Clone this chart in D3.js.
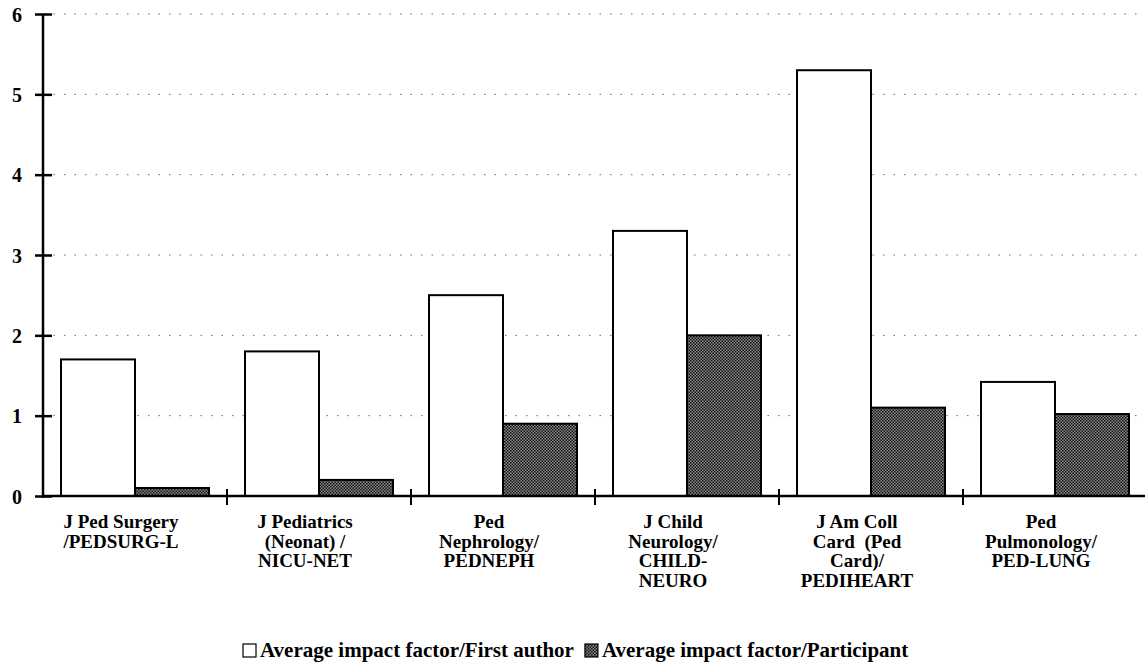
<!DOCTYPE html>
<html><head><meta charset="utf-8">
<script src="https://cdn.jsdelivr.net/npm/d3@7"></script>
<style>body{margin:0;background:#fff}svg{display:block}</style>
</head><body><div id="chart"></div>
<script>
const categories = [
  ["J Ped Surgery","/PEDSURG-L"],
  ["J Pediatrics","(Neonat) /","NICU-NET"],
  ["Ped","Nephrology/","PEDNEPH"],
  ["J Child","Neurology/","CHILD-","NEURO"],
  ["J Am Coll","Card  (Ped","Card)/","PEDIHEART"],
  ["Ped","Pulmonology/","PED-LUNG"]
];
const seriesNames = ["Average impact factor/First author","Average impact factor/Participant"];
const firstAuthor = [1.7, 1.8, 2.5, 3.3, 5.3, 1.42];
const participant = [0.1, 0.2, 0.9, 2.0, 1.1, 1.02];
const yTicks = [0,1,2,3,4,5,6];

const FONT="Liberation Serif, Times New Roman, Times, serif";
const W=1145,H=662;
const svg=d3.select("#chart").append("svg").attr("width",W).attr("height",H)
  .attr("font-family",FONT).attr("font-weight","bold");
const defs=svg.append("defs");
const pat=defs.append("pattern").attr("id","dots").attr("width",3).attr("height",3).attr("patternUnits","userSpaceOnUse");
pat.append("rect").attr("width",3).attr("height",3).attr("fill","#8a8a8a");
pat.append("rect").attr("width",1.5).attr("height",1.5).attr("fill","#111");
pat.append("rect").attr("x",1.5).attr("y",1.5).attr("width",1.5).attr("height",1.5).attr("fill","#111");

const x0=43, x1=1147, yTop=14, yBot=496;
const idx=categories.map((d,i)=>i);
const x=d3.scaleBand().domain(idx).range([x0,x1]).paddingInner(0).paddingOuter(0);
const xs=d3.scaleBand().domain([0,1]).range([18,x.bandwidth()-18]);
const y=d3.scaleLinear().domain([0,6]).range([yBot,yTop]);

// gridlines
svg.append("g").selectAll("line").data(yTicks.filter(t=>t>0)).join("line")
  .attr("x1",x0).attr("x2",W).attr("y1",d=>y(d)).attr("y2",d=>y(d))
  .attr("stroke","#666").attr("stroke-width",1).attr("stroke-dasharray","1.5,9");

// bars
const g=svg.append("g");
const data=[firstAuthor,participant];
idx.forEach(i=>{
  data.forEach((arr,s)=>{
    g.append("rect").attr("x",x(i)+xs(s)).attr("width",xs.bandwidth())
     .attr("y",y(arr[i])).attr("height",y(0)-y(arr[i]))
     .attr("fill",s===0?"#fff":"url(#dots)").attr("stroke","#000").attr("stroke-width",2);
  });
});

// y axis
const yAxis=d3.axisLeft(y).tickValues(yTicks).tickFormat(d3.format("d")).tickSize(0).tickPadding(0);
const ya=svg.append("g").attr("transform",`translate(${x0},0)`).call(yAxis)
  .attr("font-family",FONT).attr("font-size",20).attr("font-weight","bold");
ya.select(".domain").remove();
svg.append("line").attr("x1",x0).attr("x2",x0).attr("y1",yTop).attr("y2",yBot+2).attr("stroke","#000").attr("stroke-width",2.5);
ya.selectAll(".tick line").remove();
ya.selectAll(".tick").append("line").attr("x1",-8).attr("x2",9).attr("stroke","#000").attr("stroke-width",2.5);
ya.selectAll(".tick text").attr("x",-21).attr("dy","0.35em").attr("fill","#000");

// x axis
svg.append("line").attr("x1",x0).attr("x2",W).attr("y1",yBot).attr("y2",yBot).attr("stroke","#000").attr("stroke-width",2.5);
const xticks=idx.map(i=>x(i)+x.bandwidth());
svg.append("g").selectAll("line").data(xticks).join("line")
  .attr("x1",d=>d).attr("x2",d=>d).attr("y1",yBot-7).attr("y2",yBot+9).attr("stroke","#000").attr("stroke-width",2);

// category labels
const lab=svg.append("g").attr("font-size",19);
idx.forEach(i=>{
  const cx=x(i)+x.bandwidth()/2-14;
  const t=lab.append("text").attr("text-anchor","middle").attr("x",cx).attr("y",528).style("white-space","pre");
  categories[i].forEach((ln,k)=>{
    t.append("tspan").attr("x",cx).attr("y",528+k*19.7).text(ln);
  });
});

// legend
const lg=svg.append("g").attr("font-size",21);
let lx=243;
lg.append("rect").attr("x",lx).attr("y",644).attr("width",13).attr("height",13).attr("fill","#fff").attr("stroke","#000").attr("stroke-width",1.2);
const t1=lg.append("text").attr("x",lx+17).attr("y",657).text(seriesNames[0]);
lx=lx+17+t1.node().getComputedTextLength()+11;
lg.append("rect").attr("x",lx).attr("y",644).attr("width",13).attr("height",13).attr("fill","url(#dots)").attr("stroke","#000").attr("stroke-width",1.2);
lg.append("text").attr("x",lx+17).attr("y",657).text(seriesNames[1]);
</script></body></html>
